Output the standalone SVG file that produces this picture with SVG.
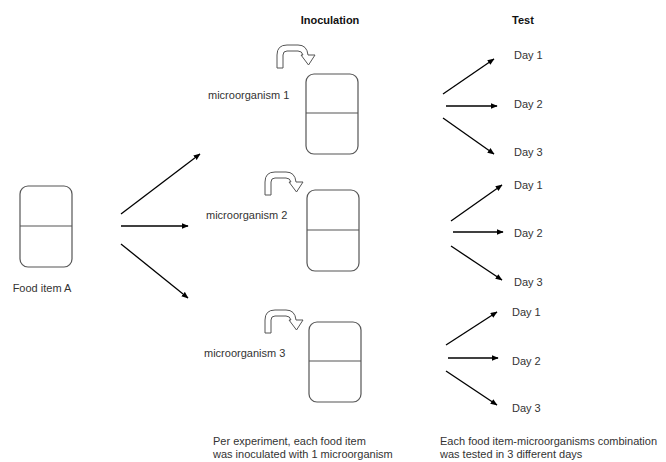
<svg xmlns="http://www.w3.org/2000/svg" width="666" height="462" viewBox="0 0 666 462">
<defs>
<style>
.t{font-family:"Liberation Sans",Arial,sans-serif;font-size:11px;fill:#333}
.h{font-family:"Liberation Sans",Arial,sans-serif;font-size:11px;font-weight:bold;fill:#111}
.box{fill:#fff;stroke:#555;stroke-width:1.2}
.div{stroke:#555;stroke-width:1.2}
.ar{stroke:#000;stroke-width:1.3;fill:none;marker-end:url(#ah)}
.ua{fill:#fff;stroke:#555;stroke-width:1}
</style>
<marker id="ah" viewBox="0 0 10 8" refX="9" refY="4" markerWidth="7" markerHeight="6" markerUnits="userSpaceOnUse" orient="auto">
<path d="M0,0 L10,4 L0,8 Z" fill="#000"/>
</marker>
<path id="uturn" d="M0,23 L0,10 Q0,0 10,0 L21,0 Q30,0 31,10 L38,10 L31.5,20 L24,10 L26,10 Q25,6 21,6 L10,6 Q6,6 6,10 L6,23 Z"/>
</defs>
<rect width="666" height="462" fill="#fff"/>
<text class="h" x="330" y="24" text-anchor="middle">Inoculation</text>
<text class="h" x="523" y="24" text-anchor="middle">Test</text>

<g id="food">
<rect class="box" x="20" y="186" width="52" height="81" rx="8"/>
<line class="div" x1="20" y1="226" x2="72" y2="226"/>
<text class="t" x="42" y="292" text-anchor="middle">Food item A</text>
</g>

<g id="micro1">
<use href="#uturn" class="ua" transform="translate(277,45)"/>
<text class="t" x="208" y="99">microorganism 1</text>
<rect class="box" x="306" y="74" width="52" height="80" rx="8"/>
<line class="div" x1="306" y1="113" x2="358" y2="113"/>
</g>

<g id="micro2">
<use href="#uturn" class="ua" transform="translate(265,172)"/>
<text class="t" x="206" y="219">microorganism 2</text>
<rect class="box" x="307" y="190" width="52" height="81" rx="8"/>
<line class="div" x1="307" y1="230" x2="359" y2="230"/>
</g>

<g id="micro3">
<use href="#uturn" class="ua" transform="translate(265,310)"/>
<text class="t" x="204" y="357">microorganism 3</text>
<rect class="box" x="309" y="322" width="52" height="80" rx="8"/>
<line class="div" x1="309" y1="361" x2="361" y2="361"/>
</g>

<g id="days1">
<text class="t" x="514" y="59">Day 1</text>
<text class="t" x="514" y="108">Day 2</text>
<text class="t" x="514" y="156">Day 3</text>
</g>
<g id="days2">
<text class="t" x="514" y="189">Day 1</text>
<text class="t" x="514" y="237">Day 2</text>
<text class="t" x="514" y="286">Day 3</text>
</g>
<g id="days3">
<text class="t" x="512" y="316">Day 1</text>
<text class="t" x="512" y="365">Day 2</text>
<text class="t" x="512" y="412">Day 3</text>
</g>

<g id="notes">
<text class="t" x="213" y="445">Per experiment, each food item</text>
<text class="t" x="213" y="458">was inoculated with 1 microorganism</text>
<text class="t" x="440" y="445">Each food item-microorganisms combination</text>
<text class="t" x="440" y="458">was tested in 3 different days</text>
</g>

<g id="connectors">
<line class="ar" x1="121" y1="214" x2="200" y2="154"/>
<line class="ar" x1="121" y1="226" x2="188" y2="226"/>
<line class="ar" x1="121" y1="244" x2="188" y2="298"/>

<line class="ar" x1="443" y1="94" x2="494" y2="59"/>
<line class="ar" x1="446" y1="106" x2="497" y2="106"/>
<line class="ar" x1="443" y1="118" x2="494" y2="154"/>

<line class="ar" x1="451" y1="221" x2="502" y2="185"/>
<line class="ar" x1="453" y1="232" x2="503" y2="232"/>
<line class="ar" x1="451" y1="246" x2="502" y2="280"/>

<line class="ar" x1="446" y1="345" x2="497" y2="312"/>
<line class="ar" x1="448" y1="358" x2="498" y2="358"/>
<line class="ar" x1="446" y1="371" x2="497" y2="405"/>
</g>
</svg>
